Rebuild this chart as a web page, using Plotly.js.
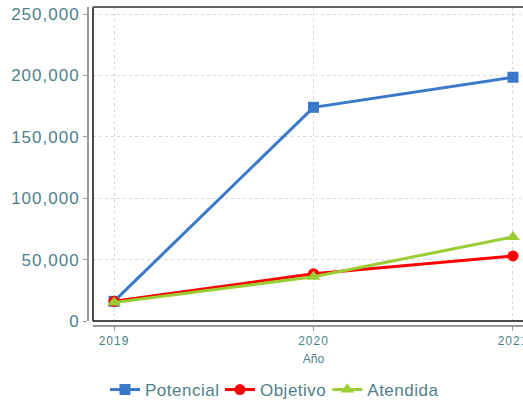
<!DOCTYPE html>
<html><head><meta charset="utf-8">
<script src="https://cdn.plot.ly/plotly-3.0.1.min.js"></script>
<style>
html,body{margin:0;padding:0;overflow:hidden;background:#fff;width:523px;height:400px}
#chart .ytick text{letter-spacing:1px}
#chart .xtick text{letter-spacing:1px}
#chart .legendtext{letter-spacing:0.5px}
</style></head>
<body><div id="chart"></div>
<script>
var years = [2019, 2020, 2021];
var potencial = [16000, 174000, 198500];
var objetivo = [16000, 38500, 53000];
var atendida = [15000, 36000, 68500];
var yTicks = [0, 50000, 100000, 150000, 200000, 250000];

var W = 545, H = 400;
var ml = 88, mr = 11, mt = 7, mb = 74;
var pw = W - ml - mr, ph = H - mt - mb;
var xd0 = 5 / pw, yd0 = 5 / ph;

var traces = [
  {x: years, y: potencial, name: 'Potencial', mode: 'lines+markers', line: {color: '#3a78c9', width: 3}, marker: {symbol: 'square', size: 11, color: '#3a78c9'}},
  {x: years, y: objetivo, name: 'Objetivo', mode: 'lines+markers', line: {color: '#ff0000', width: 3}, marker: {symbol: 'circle', size: 11, color: '#ff0000'}},
  {x: years, y: atendida, name: 'Atendida', mode: 'lines+markers', line: {color: '#9acd32', width: 3}, marker: {symbol: 'triangle-up', size: 12, color: '#9acd32'}}
];

var tickColor = '#4f7f8a';
var layout = {
  width: W, height: H,
  margin: {l: ml, r: mr, t: mt, b: mb},
  paper_bgcolor: '#fff', plot_bgcolor: '#fff',
  showlegend: true,
  xaxis: {
    domain: [xd0, 1], anchor: 'free', position: 0,
    range: [2018.8947, 2021.1053],
    tickvals: years, ticktext: years.map(String),
    showline: true, linecolor: '#999', linewidth: 2,
    ticks: 'outside', ticklen: 4, tickcolor: '#999', tickwidth: 1,
    showgrid: true, gridcolor: '#d9d9d9', griddash: '3px,3px', gridwidth: 1,
    zeroline: false,
    tickfont: {family: 'Liberation Sans, Arial, sans-serif', size: 12, color: tickColor},
    title: {text: 'Año', font: {family: 'Liberation Sans, Arial, sans-serif', size: 12, color: tickColor}, standoff: 6}
  },
  yaxis: {
    domain: [yd0, 1], anchor: 'free', position: 0,
    range: [0, 255700],
    tickvals: yTicks,
    tickformat: ',d',
    showline: true, linecolor: '#999', linewidth: 2,
    ticks: 'outside', ticklen: 4, tickcolor: '#999', tickwidth: 1,
    showgrid: true, gridcolor: '#d9d9d9', griddash: '3px,3px', gridwidth: 1,
    zeroline: false,
    tickfont: {family: 'Liberation Sans, Arial, sans-serif', size: 17, color: tickColor}
  },
  legend: {
    orientation: 'h', xref: 'container', x: 0.5, xanchor: 'center', yref: 'container', y: 0.025, yanchor: 'middle',
    font: {family: 'Liberation Sans, Arial, sans-serif', size: 17, color: tickColor},
    itemwidth: 30, tracegroupgap: 0
  },
  shapes: [
    {type: 'line', xref: 'paper', yref: 'paper', x0: xd0, x1: xd0, y0: yd0, y1: 1, line: {color: '#111', width: 1.5}},
    {type: 'line', xref: 'paper', yref: 'paper', x0: xd0, x1: 1, y0: yd0, y1: yd0, line: {color: '#111', width: 1.5}},
    {type: 'line', xref: 'paper', yref: 'paper', x0: xd0, x1: 1, y0: 1, y1: 1, line: {color: '#666', width: 2}}
  ]
};
Plotly.newPlot('chart', traces, layout, {displayModeBar: false, staticPlot: true});
</script></body></html>
